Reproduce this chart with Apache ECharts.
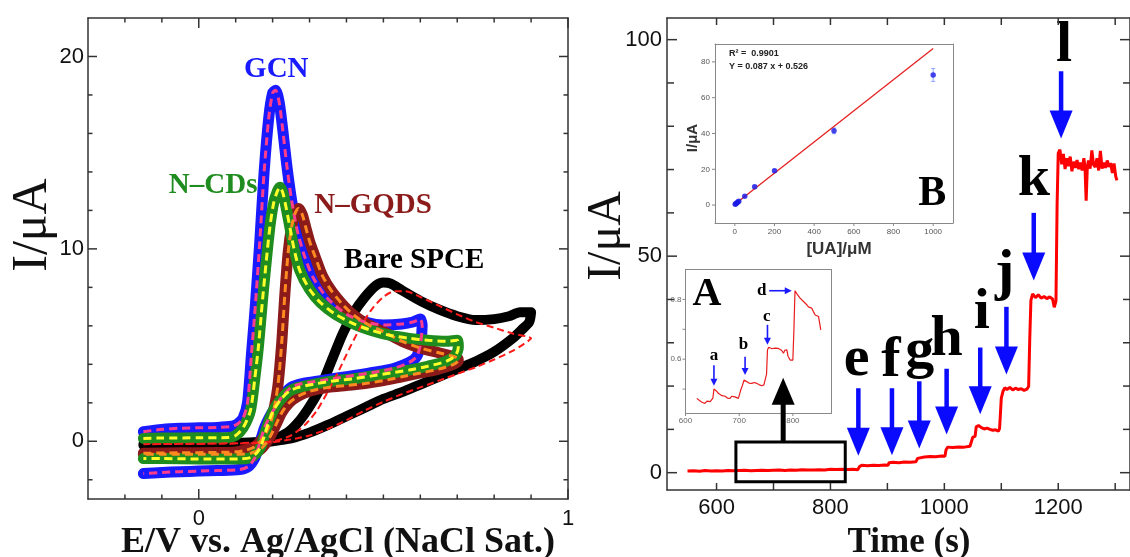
<!DOCTYPE html>
<html><head><meta charset="utf-8">
<script src="https://cdn.jsdelivr.net/npm/echarts@6/dist/echarts.min.js"></script>
<style>html,body{margin:0;padding:0;background:#fff}#c{width:1130px;height:557px}</style>
</head><body><div id="c"></div>
<script>
// ---------------- Left panel: cyclic voltammograms (E in V, I in uA) ----------------
const cvGCN = [[-0.15,0.5],[-0.1,0.62],[-0.05,0.68],[0,0.7],[0.05,0.72],[0.09,0.78],[0.105,0.9],[0.12,1.2],[0.132,2.0],[0.143,4.6],[0.153,7.0],[0.165,10.3],[0.177,14.0],[0.19,16.9],[0.2,18.1],[0.208,18.25],[0.218,17.6],[0.228,16.1],[0.238,14.4],[0.25,12.7],[0.265,11.1],[0.285,9.7],[0.31,8.5],[0.35,7.4],[0.4,6.6],[0.45,6.2],[0.5,6.05],[0.55,6.1],[0.58,6.2],[0.6,6.35],[0.605,6.0],[0.6,5.0],[0.59,4.4],[0.57,4.1],[0.53,3.8],[0.48,3.6],[0.43,3.45],[0.38,3.3],[0.33,3.15],[0.28,3.0],[0.25,2.8],[0.225,2.3],[0.205,1.7],[0.19,1.2],[0.178,0.7],[0.165,-0.1],[0.152,-0.85],[0.135,-1.3],[0.11,-1.47],[0.05,-1.52],[0,-1.55],[-0.05,-1.58],[-0.1,-1.62],[-0.15,-1.68]];
const cvNCD = [[-0.15,0.15],[-0.1,0.17],[0,0.18],[0.08,0.2],[0.1,0.3],[0.12,0.7],[0.14,1.6],[0.152,3.3],[0.162,5.0],[0.172,7.2],[0.183,9.4],[0.193,11.2],[0.203,12.4],[0.213,13.0],[0.22,13.2],[0.228,12.9],[0.238,12.0],[0.248,11.0],[0.258,10.0],[0.273,8.9],[0.3,7.9],[0.33,7.2],[0.37,6.6],[0.42,6.1],[0.47,5.75],[0.52,5.5],[0.57,5.35],[0.62,5.25],[0.67,5.2],[0.7,5.25],[0.703,4.9],[0.695,4.45],[0.67,4.15],[0.62,3.9],[0.57,3.7],[0.52,3.55],[0.47,3.4],[0.42,3.25],[0.37,3.15],[0.32,3.0],[0.27,2.8],[0.245,2.6],[0.223,2.2],[0.205,1.7],[0.193,1.2],[0.18,0.45],[0.168,-0.28],[0.155,-0.65],[0.14,-0.85],[0.11,-0.92],[0,-0.92],[-0.1,-0.9],[-0.15,-0.9]];
const cvNGQD = [[-0.15,-0.62],[-0.05,-0.6],[0.05,-0.58],[0.1,-0.55],[0.13,-0.45],[0.15,-0.3],[0.165,-0.05],[0.18,0.35],[0.195,1.0],[0.205,1.8],[0.215,3.0],[0.225,5.2],[0.233,7.6],[0.242,9.8],[0.252,11.2],[0.262,11.9],[0.27,12.1],[0.28,11.8],[0.29,11.1],[0.3,10.4],[0.315,9.6],[0.335,8.6],[0.36,7.8],[0.39,7.1],[0.42,6.55],[0.46,6.05],[0.5,5.7],[0.55,5.2],[0.6,4.85],[0.65,4.6],[0.7,4.35],[0.703,4.2],[0.69,4.0],[0.65,3.75],[0.6,3.55],[0.55,3.35],[0.5,3.15],[0.45,3.0],[0.4,2.9],[0.35,2.8],[0.3,2.6],[0.27,2.35],[0.245,2.0],[0.225,1.5],[0.21,0.9],[0.195,0.3],[0.18,-0.15],[0.165,-0.45],[0.14,-0.62],[0.1,-0.68],[0,-0.68],[-0.1,-0.68],[-0.15,-0.68]];
const cvBare = [[-0.15,-0.15],[-0.05,-0.12],[0.05,-0.1],[0.15,-0.05],[0.2,0.1],[0.24,0.45],[0.27,1.0],[0.3,1.8],[0.33,2.8],[0.36,4.2],[0.39,5.6],[0.42,6.7],[0.45,7.5],[0.48,8.1],[0.5,8.25],[0.52,8.2],[0.55,7.85],[0.6,7.3],[0.65,6.85],[0.7,6.5],[0.75,6.3],[0.8,6.35],[0.84,6.5],[0.87,6.7],[0.9,6.7],[0.895,6.2],[0.875,5.8],[0.85,5.35],[0.8,4.65],[0.75,4.15],[0.7,3.75],[0.65,3.35],[0.6,2.95],[0.55,2.55],[0.5,2.2],[0.45,1.75],[0.4,1.3],[0.35,0.85],[0.3,0.45],[0.25,0.15],[0.2,0.0],[0.15,-0.1],[0.05,-0.15],[-0.05,-0.18],[-0.15,-0.2]];
const cvBareDash = [[-0.15,-0.15],[0.1,-0.1],[0.2,0.0],[0.25,0.3],[0.29,0.9],[0.32,1.6],[0.35,2.6],[0.38,3.7],[0.41,4.9],[0.44,6.0],[0.47,6.9],[0.5,7.5],[0.53,7.8],[0.56,7.8],[0.6,7.5],[0.65,7.05],[0.7,6.6],[0.75,6.2],[0.8,5.9],[0.85,5.6],[0.9,5.35],[0.88,5.05],[0.85,4.7],[0.8,4.25],[0.75,3.85],[0.7,3.5],[0.65,3.15],[0.6,2.8],[0.55,2.45],[0.5,2.05],[0.45,1.6],[0.4,1.1],[0.35,0.65],[0.3,0.3],[0.25,0.1],[0.2,-0.05],[0.1,-0.12],[-0.15,-0.15]];
const cvNames = ['GCN','N\u2013CDs','N\u2013GQDS','Bare SPCE'];
const cvNamePos = [[0.21,19.3],[0.039,13.3],[0.472,12.26],[0.583,9.4]];
const cvXTicks = [0,1];
const cvXMinor = [-0.2,-0.1,0.1,0.2,0.3,0.4,0.5,0.6,0.7,0.8,0.9];
const cvYTicks = [0,10,20];
const cvYMinor = [-2,2,4,6,8,12,14,16,18];

// ---------------- Right panel: amperometric i-t curve ----------------
const ampData = [[549,0.4],[560,0.45],[570,0.35],[580,0.5],[590,0.4],[600,0.45],[610,0.4],[620,0.5],[630,0.45],[640,0.5],[650,0.55],[660,0.45],[670,0.5],[680,0.55],[690,0.5],[700,0.55],[710,0.6],[720,0.5],[730,0.6],[740,0.55],[750,0.65],[760,0.6],[770,0.6],[780,0.65],[790,0.6],[800,0.8],[810,0.75],[820,0.8],[830,0.75],[840,0.8],[848,0.7],
[851,1.4],[855,1.7],[865,1.6],[875,1.7],[885,1.65],[895,1.75],[901,1.7],
[903,2.3],[910,2.4],[920,2.3],[930,2.45],[940,2.4],[950,2.5],
[953,3.3],[956,3.7],[965,3.6],[975,3.75],[985,3.7],[995,3.85],[1001,3.8],
[1003,5.3],[1006,5.9],[1015,5.8],[1025,5.95],[1035,5.9],[1045,6.1],[1048,6.2],
[1050,8.2],[1054,8.4],[1056,10.6],[1060,10.9],[1065,10.4],[1070,10.1],[1075,10.3],[1080,10.0],[1085,9.8],[1090,9.9],[1095,9.6],[1097,10.2],
[1100,17.2],[1103,18.8],[1106,19.6],[1110,19.2],[1115,19.7],[1120,19.1],[1125,19.5],[1130,19.2],[1135,19.4],[1140,19.0],[1145,19.3],[1148,19.9],
[1150,31],[1152,39.8],[1155,41.3],[1160,40.4],[1165,41.1],[1170,40.3],[1175,40.7],[1180,40.2],[1185,40.6],[1190,40.1],[1193,38.2],[1196,39.6],
[1198,62],[1200,73.8],[1203,74.6],[1206,71.2],[1209,73.6],[1212,70.1],[1215,72.6],[1218,70.8],[1221,73],[1224,69.6],[1227,71.8],[1230,70.4],[1233,72.2],[1236,70.1],[1239,71.6],[1242,69.8],[1245,72.6],[1247,70.5],[1249,62.8],[1251,70.4],[1253,72.1],[1256,70.2],[1259,74.4],[1262,71.1],[1265,70.6],[1268,72.6],[1271,69.8],[1274,74.3],[1277,70.2],[1280,71.6],[1283,70.4],[1286,72.1],[1289,70.6],[1292,71.5],[1295,69.2],[1298,71.4],[1301,68.4],[1303,67.5]];
const stepArrows = [[849,19.5,849,3.9],[908,19.5,908,4.0],[956,21.1,956,5.6],[1004,24,1004,8.8],[1063,28.9,1063,13.5],[1109,38.3,1109,22.7],[1157,60,1157,44.4],[1205,92.7,1205,77.2]];
const stepLetters = ['e','f','g','h','i','j','k','l'];
const stepLetterPos = [[846,26.0],[906,25.8],[957,27.9],[1004,30.6],[1066,36.8],[1106,45.8],[1157,67.5],[1210,98.5]];
const zoomBox = [[634,-2.1,826,7.1]];
const zoomArrow = [[717,7.1,717,21.9]];
const ampXTicks = [600,700,800,900,1000,1100,1200,1300];
const ampXLabels = [600,800,1000,1200];
const ampYTicks = [0,50,100];
const ampYMinor = [10,20,30,40,60,70,80,90];

// ---------------- Inset B: calibration ----------------
const uaConc = [2,5,10,15,20,50,100,200,500,1000];
const uaCurr = [0.5,0.8,1.2,1.8,2.2,5.0,10.3,19.2,41.5,72.7];
const uaErr  = [0.4,0.4,0.4,0.4,0.4,0.6,0.7,0.8,1.6,3.6];
const fitLine = [[0,0.53],[1000,87.5]];
const insetBXLabels = [0,200,400,600,800,1000];
const insetBYLabels = [0,20,40,60,80];

// ---------------- Inset A: low-concentration zoom ----------------
const zoomData = [[621,0.469],[626,0.462],[630,0.457],[633,0.462],[636,0.452],[640,0.46],[643,0.463],[646,0.458],[649,0.463],[651,0.47],[653,0.50],[655,0.497],[658,0.493],[661,0.486],[664,0.48],[668,0.478],[671,0.472],[674,0.476],[678,0.47],[683,0.469],[686,0.476],[689,0.47],[692,0.474],[695,0.468],[698.5,0.469],[701,0.485],[703,0.497],[706,0.512],[709,0.53],[711,0.527],[714,0.525],[718,0.52],[723.5,0.519],[728,0.522],[733,0.519],[737,0.515],[742,0.511],[746,0.514],[749.6,0.513],[751,0.55],[752.7,0.631],[755,0.64],[757.6,0.642],[761,0.635],[764,0.64],[767,0.637],[770,0.643],[773,0.636],[776,0.642],[779,0.63],[782.5,0.62],[785,0.63],[788.8,0.631],[791,0.61],[793,0.605],[795,0.597],[797,0.603],[800,0.597],[802,0.7],[804,0.829],[807,0.82],[810.5,0.815],[813,0.805],[816,0.8],[819.8,0.793],[823,0.79],[826,0.782],[829,0.775],[832,0.78],[835,0.771],[838,0.76],[841.6,0.748],[845,0.745],[847.8,0.743],[850,0.72],[852,0.698]];
const zoomArrows = [[653,0.58,653,0.511],[711,0.608,711,0.547],[752.7,0.715,752.7,0.648],[756,0.829,798,0.829]];
const zoomLetters = ['A','a','b','c','d'];
const zoomLetterPos = [[640,0.816],[653,0.612],[708,0.649],[751.5,0.744],[742,0.828]];
const insetAXLabels = [600,700,800];
const insetAYLabels = [0.6,0.8];
const insetAYTicks = [0.5,0.6,0.7,0.8];

// ---------------- helpers ----------------
const SANS = '"Liberation Sans", Arial, sans-serif';
const SERIF = '"Liberation Serif", "Times New Roman", serif';
function ax(o){
  return {
    type:'value', gridIndex:o.g, position:o.pos, min:o.min, max:o.max, z:5,
    axisLine:{show:true, onZero:false, lineStyle:{color:o.lc||'#333', width:o.lw||1.5}},
    splitLine:{show:false}, axisTick:{show:false},
    axisLabel:o.labels?Object.assign({show:true, customValues:o.labels, formatter:function(v){return String(v);}}, o.ls):{show:false}
  };
}
// tick marks: [value, dim(0=x,1=y), length, mode(0=inside on both edges, 1=outside on bottom/left)]
function tickItems(vals, dim, len, mode){ return vals.map(v => [v, dim, len, mode]); }
function tickRender(color, w){
  return function(params, api){
    const cs = params.coordSys;
    const v = api.value(0), dim = api.value(1), len = api.value(2), mode = api.value(3);
    const st = {stroke:color, lineWidth:w};
    const ch = [];
    if (dim === 0){
      const x = api.coord([v, 0])[0];
      const yb = cs.y + cs.height, yt = cs.y;
      if (mode === 0){
        ch.push({type:'line', shape:{x1:x,y1:yb,x2:x,y2:yb-len}, style:st});
        ch.push({type:'line', shape:{x1:x,y1:yt,x2:x,y2:yt+len}, style:st});
      } else ch.push({type:'line', shape:{x1:x,y1:yb,x2:x,y2:yb+len}, style:st});
    } else {
      const y = api.coord([0, v])[1];
      const xl = cs.x, xr = cs.x + cs.width;
      if (mode === 0){
        ch.push({type:'line', shape:{x1:xl,y1:y,x2:xl+len,y2:y}, style:st});
        ch.push({type:'line', shape:{x1:xr,y1:y,x2:xr-len,y2:y}, style:st});
      } else ch.push({type:'line', shape:{x1:xl,y1:y,x2:xl-len,y2:y}, style:st});
    }
    return {type:'group', children:ch};
  };
}
const bigLbl = {fontSize:22, fontFamily:SANS, color:'#111'};
function arrowRender(color, w, hl, hwFull){
  return function(params, api){
    const p0 = api.coord([api.value(0), api.value(1)]);
    const p1 = api.coord([api.value(2), api.value(3)]);
    const dx=p1[0]-p0[0], dy=p1[1]-p0[1], L=Math.hypot(dx,dy)||1;
    const ux=dx/L, uy=dy/L, nx=-uy, ny=ux, hw=hwFull/2;
    const bx=p1[0]-ux*hl, by=p1[1]-uy*hl;
    return {type:'group', children:[
      {type:'line', shape:{x1:p0[0],y1:p0[1],x2:bx+ux*2,y2:by+uy*2}, style:{stroke:color, lineWidth:w}},
      {type:'polygon', shape:{points:[[p1[0],p1[1]],[bx+nx*hw,by+ny*hw],[bx-nx*hw,by-ny*hw]]}, style:{fill:color}}
    ]};
  };
}
function textRender(texts, colors, fonts){
  return function(params, api){
    const p = api.coord([api.value(0), api.value(1)]);
    const i = params.dataIndex;
    return {type:'text', x:p[0], y:p[1], style:{text:texts[i], fill:Array.isArray(colors)?colors[i]:colors,
      font:Array.isArray(fonts)?fonts[i]:fonts, align:'center', verticalAlign:'middle'}};
  };
}
function cvPair(name, data, outer, inner, w){
  const s = [{type:'line', name:name, data:data, xAxisIndex:0, yAxisIndex:0, showSymbol:false, symbol:'none', smooth:0.25,
      lineStyle:{color:outer, width:w, cap:'round', join:'round'}, z:2}];
  if (inner) s.push({type:'line', data:data, xAxisIndex:0, yAxisIndex:0, showSymbol:false, symbol:'none', smooth:0.25,
      lineStyle:{color:inner, width:3, type:[8,5]}, z:3});
  return s;
}
function tickSeries(xi, yi, items, color, w){
  return {type:'custom', xAxisIndex:xi, yAxisIndex:yi, data:items, z:15, silent:true, clip:false, renderItem:tickRender(color, w)};
}

const option = {
  animation:false, backgroundColor:'#fff',
  grid:[
    {left:88, top:18, width:480, height:481, show:false},
    {left:667, top:18, width:464, height:472, show:false},
    {left:715, top:44, width:238, height:179, show:true, borderWidth:0, backgroundColor:'#fff'},
    {left:685.5, top:269.5, width:146, height:143.5, show:true, borderWidth:0, backgroundColor:'#fff'}
  ],
  xAxis:[
    ax({g:0,pos:'bottom',min:-0.3,max:1,labels:cvXTicks,ls:Object.assign({margin:9},bigLbl)}),
    ax({g:0,pos:'top',min:-0.3,max:1}),
    ax({g:1,pos:'bottom',min:513,max:1326,labels:ampXLabels,ls:Object.assign({margin:7},bigLbl)}),
    ax({g:1,pos:'top',min:513,max:1326}),
    ax({g:2,pos:'bottom',min:-100,max:1100,lc:'#888',lw:1,labels:insetBXLabels,ls:{fontSize:8,fontFamily:SANS,color:'#555',margin:5}}),
    ax({g:2,pos:'top',min:-100,max:1100,lc:'#888',lw:1}),
    ax({g:3,pos:'bottom',min:600,max:872,lc:'#888',lw:1,labels:insetAXLabels,ls:{fontSize:8,fontFamily:SANS,color:'#666',margin:4}}),
    ax({g:3,pos:'top',min:600,max:872,lc:'#888',lw:1})
  ],
  yAxis:[
    ax({g:0,pos:'left',min:-3,max:22,labels:cvYTicks,ls:Object.assign({margin:4},bigLbl)}),
    ax({g:0,pos:'right',min:-3,max:22}),
    ax({g:1,pos:'left',min:-4,max:105,labels:ampYTicks,ls:Object.assign({margin:5},bigLbl)}),
    ax({g:1,pos:'right',min:-4,max:105}),
    ax({g:2,pos:'left',min:-10,max:90,lc:'#888',lw:1,labels:insetBYLabels,ls:{fontSize:8,fontFamily:SANS,color:'#555',margin:5}}),
    ax({g:2,pos:'right',min:-10,max:90,lc:'#888',lw:1}),
    ax({g:3,pos:'left',min:0.42,max:0.9,lc:'#888',lw:1,labels:insetAYLabels,ls:{fontSize:8,fontFamily:SANS,color:'#666',margin:4,formatter:function(v){return v.toFixed(1);}}}),
    ax({g:3,pos:'right',min:0.42,max:0.9,lc:'#888',lw:1})
  ],
  graphic:[
    {type:'text', x:33, y:225, rotation:Math.PI/2, style:{text:'I/\u03bcA', font:'50px '+SERIF, fill:'#111', align:'center', verticalAlign:'middle'}},
    {type:'text', x:338, y:543, style:{text:'E/V vs. Ag/AgCl (NaCl Sat.)', font:'bold 36px '+SERIF, fill:'#111', align:'center', verticalAlign:'middle'}},
    {type:'text', x:607, y:236, rotation:Math.PI/2, style:{text:'I/\u03bcA', font:'48px '+SERIF, fill:'#111', align:'center', verticalAlign:'middle'}},
    {type:'text', x:909, y:543, style:{text:'Time (s)', font:'bold 35px '+SERIF, fill:'#111', align:'center', verticalAlign:'middle'}},
    {type:'text', x:693, y:138, rotation:Math.PI/2, z:20, style:{text:'I/\u03bcA', font:'bold 15px '+SANS, fill:'#333', align:'center', verticalAlign:'middle'}},
    {type:'text', x:839, y:249, z:20, style:{text:'[UA]/\u03bcM', font:'bold 17px '+SANS, fill:'#333', align:'center', verticalAlign:'middle'}},
    {type:'text', x:729, y:54, z:20, style:{text:'R\u00b2 =  0.9901', font:'bold 9px '+SANS, fill:'#222', align:'left', verticalAlign:'middle'}},
    {type:'text', x:729, y:67, z:20, style:{text:'Y = 0.087 x + 0.526', font:'bold 9px '+SANS, fill:'#222', align:'left', verticalAlign:'middle'}}
  ],
  series:[].concat(
    cvPair('Bare SPCE', cvBare, '#000000', null, 10),
    [{type:'line', data:cvBareDash, xAxisIndex:0, yAxisIndex:0, symbol:'none', smooth:0.25, lineStyle:{color:'#ff1a1a', width:2, type:[7,4]}, z:3}],
    cvPair('GCN', cvGCN, '#1a1aff', '#ff3d8b', 11),
    cvPair('N-GQDS', cvNGQD, '#8b1a1a', '#ff8a1f', 11),
    cvPair('N-CDs', cvNCD, '#1e8c1e', '#ffff2a', 11),
    [
      tickSeries(0, 0, [].concat(tickItems(cvXTicks,0,10,0), tickItems(cvXMinor,0,4.5,0), tickItems(cvYTicks,1,9,0), tickItems(cvYMinor,1,4.5,0)), '#333', 1.5),
      tickSeries(2, 2, [].concat(tickItems(ampXTicks,0,7,0), tickItems(ampYTicks,1,10,0), tickItems(ampYMinor,1,7,0)), '#333', 1.5),
      tickSeries(4, 4, [].concat(tickItems(insetBXLabels,0,3,1), tickItems(insetBYLabels,1,3,1)), '#888', 1),
      tickSeries(6, 6, [].concat(tickItems(insetAXLabels,0,3,1), tickItems(insetAYTicks,1,3,1)), '#888', 1),
      {type:'custom', xAxisIndex:0, yAxisIndex:0, data:cvNamePos, z:10, silent:true, clip:false,
        renderItem:textRender(cvNames, ['#1a1aff','#1e8c1e','#8b1a1a','#000'], 'bold 29px '+SERIF)},
      {type:'line', data:ampData, xAxisIndex:2, yAxisIndex:2, symbol:'none', lineStyle:{color:'#ff0000', width:3}, z:2},
      {type:'custom', xAxisIndex:2, yAxisIndex:2, data:stepArrows, z:6, clip:false, renderItem:arrowRender('#0a0aff', 4.5, 28, 23)},
      {type:'custom', xAxisIndex:2, yAxisIndex:2, data:stepLetterPos, z:6, clip:false, renderItem:textRender(stepLetters, '#000', 'bold 58px '+SERIF)},
      {type:'custom', xAxisIndex:2, yAxisIndex:2, data:zoomBox, z:6, clip:false, renderItem:function(params, api){
        const a = api.coord([api.value(0), api.value(3)]), b = api.coord([api.value(2), api.value(1)]);
        return {type:'rect', shape:{x:a[0], y:a[1], width:b[0]-a[0], height:b[1]-a[1]}, style:{fill:'none', stroke:'#000', lineWidth:3}};
      }},
      {type:'line', data:fitLine, xAxisIndex:4, yAxisIndex:4, symbol:'none', lineStyle:{color:'#e52020', width:1.3}, z:12},
      {type:'custom', xAxisIndex:4, yAxisIndex:4, data:uaConc.map((c,i)=>[c, uaCurr[i]-uaErr[i], uaCurr[i]+uaErr[i]]), z:12, renderItem:function(params, api){
        const lo = api.coord([api.value(0), api.value(1)]), hi = api.coord([api.value(0), api.value(2)]);
        return {type:'group', children:[
          {type:'line', shape:{x1:lo[0],y1:lo[1],x2:hi[0],y2:hi[1]}, style:{stroke:'#8fa3ff', lineWidth:1}},
          {type:'line', shape:{x1:lo[0]-2,y1:lo[1],x2:lo[0]+2,y2:lo[1]}, style:{stroke:'#8fa3ff', lineWidth:1}},
          {type:'line', shape:{x1:hi[0]-2,y1:hi[1],x2:hi[0]+2,y2:hi[1]}, style:{stroke:'#8fa3ff', lineWidth:1}}
        ]};
      }},
      {type:'scatter', data:uaConc.map((c,i)=>[c, uaCurr[i]]), xAxisIndex:4, yAxisIndex:4, symbolSize:5.5, itemStyle:{color:'#1a1ae6'}, z:13},
      {type:'custom', xAxisIndex:4, yAxisIndex:4, data:[[995,6.3]], z:13, renderItem:textRender(['B'], '#000', 'bold 42px '+SERIF)},
      {type:'line', data:zoomData, xAxisIndex:6, yAxisIndex:6, symbol:'none', lineStyle:{color:'#e81c1c', width:1.2}, z:12},
      {type:'custom', xAxisIndex:6, yAxisIndex:6, data:zoomArrows, z:13, clip:false, renderItem:arrowRender('#1a1aff', 1.6, 7, 7)},
      {type:'custom', xAxisIndex:6, yAxisIndex:6, data:zoomLetterPos, z:13, clip:false, renderItem:textRender(zoomLetters, '#000', ['bold 40px '+SERIF,'bold 17px '+SERIF,'bold 17px '+SERIF,'bold 17px '+SERIF,'bold 17px '+SERIF])},
      {type:'custom', xAxisIndex:2, yAxisIndex:2, data:zoomArrow, z:20, clip:false, renderItem:arrowRender('#000', 5, 27, 23)}
    ]
  )
};
const chart = echarts.init(document.getElementById('c'), null, {renderer:'canvas'});
chart.setOption(option);
</script></body></html>
